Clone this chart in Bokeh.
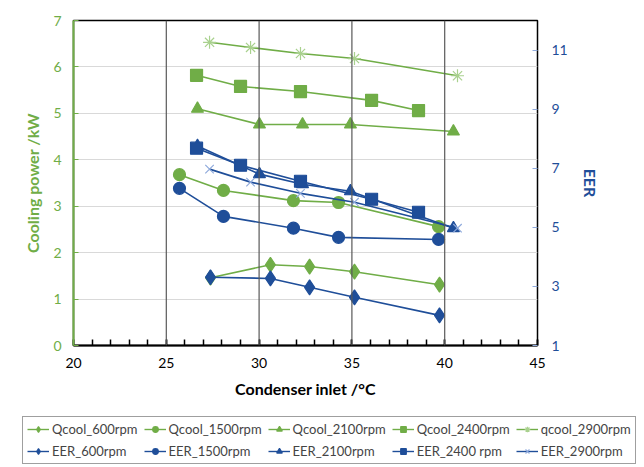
from bokeh.plotting import figure
from bokeh.models import (Range1d, LinearAxis, FixedTicker, Legend, LegendItem, Span)
from bokeh.embed import file_html
from bokeh.resources import INLINE

# ---- data ----
x_600 = [27.38, 30.61, 32.72, 35.14, 39.72]
q_600 = [1.46, 1.74, 1.70, 1.59, 1.31]
eer_600 = [3.31, 3.27, 2.97, 2.63, 2.02]

x_1500 = [25.71, 28.08, 31.85, 34.28, 39.67]
q_1500 = [3.68, 3.34, 3.12, 3.08, 2.56]
eer_1500 = [6.32, 5.37, 4.97, 4.66, 4.59]

x_2100 = [26.68, 30.02, 32.34, 34.92, 40.47]
q_2100 = [5.10, 4.76, 4.76, 4.76, 4.61]
eer_2100 = [7.75, 6.80, 6.46, 6.22, 4.97]

x_2400 = [26.63, 29.00, 32.23, 36.06, 38.59]
q_2400 = [5.82, 5.58, 5.47, 5.28, 5.06]
eer_2400 = [7.68, 7.10, 6.56, 5.95, 5.51]

x_2900 = [27.33, 29.54, 32.23, 35.14, 40.69]
q_2900 = [6.53, 6.42, 6.29, 6.18, 5.81]
eer_2900 = [6.97, 6.53, 6.15, 5.85, 4.97]

q_labels = ["Qcool_600rpm", "Qcool_1500rpm", "Qcool_2100rpm", "Qcool_2400rpm", "qcool_2900rpm"]
e_labels = ["EER_600rpm", "EER_1500rpm", "EER_2100rpm", "EER_2400 rpm", "EER_2900rpm"]

x_ticks = [20, 25, 30, 35, 40, 45]
y_ticks = [0, 1, 2, 3, 4, 5, 6, 7]
eer_ticks = [1, 3, 5, 7, 9, 11]

GREEN = "#70AD47"
LGREEN = "#A9D18E"
BLUE = "#1F4E99"
LBLUE = "#8FAADC"
FONT = "Lato"

p = figure(width=644, height=402, output_backend="svg", toolbar_location=None,
           x_range=Range1d(20, 45), y_range=Range1d(0, 7),
           min_border_left=73, min_border_right=107, min_border_top=20, min_border_bottom=57)
p.extra_y_ranges = {"eer": Range1d(1, 12)}

p.outline_line_color = "black"
p.outline_line_width = 1.5

# grids
p.xgrid.visible = False
p.ygrid.ticker = FixedTicker(ticks=[1, 2, 3, 4, 5, 6])
p.ygrid.grid_line_color = "#D9D9D9"
p.ygrid.grid_line_width = 1
for xv in [25, 30, 35, 40]:
    p.add_layout(Span(location=xv, dimension="height", line_color="#595959", line_width=1.2))

# x axis
xa = p.xaxis[0]
xa.ticker = FixedTicker(ticks=x_ticks, minor_ticks=list(range(20, 46)))
xa.major_tick_in = 6
xa.major_tick_out = 0
xa.minor_tick_in = 6
xa.minor_tick_out = 0
xa.major_tick_line_color = "black"
xa.minor_tick_line_color = "black"
xa.major_tick_line_width = 1.5
xa.minor_tick_line_width = 1.5
xa.axis_line_color = "black"
xa.axis_line_width = 2
xa.major_label_text_font = FONT
xa.major_label_text_font_size = "14px"
xa.major_label_text_color = "black"
xa.major_label_standoff = 12
xa.axis_label = "Condenser inlet /°C"
xa.axis_label_text_font = FONT
xa.axis_label_text_font_style = "bold"
xa.axis_label_text_font_size = "16px"
xa.axis_label_text_color = "black"
xa.axis_label_standoff = 8

# left axis
ya = p.yaxis[0]
ya.ticker = FixedTicker(ticks=y_ticks)
ya.major_tick_in = 5
ya.major_tick_out = 0
ya.minor_tick_line_color = None
ya.major_tick_line_color = GREEN
ya.axis_line_color = GREEN
ya.axis_line_width = 2
ya.major_label_text_font = FONT
ya.major_label_text_font_size = "14px"
ya.major_label_text_color = GREEN
ya.major_label_standoff = 12
ya.axis_label = "Cooling power /kW"
ya.axis_label_text_font = FONT
ya.axis_label_text_font_style = "bold"
ya.axis_label_text_font_size = "16px"
ya.axis_label_text_color = GREEN
ya.axis_label_standoff = 8

# right axis
ra = LinearAxis(y_range_name="eer", ticker=FixedTicker(ticks=eer_ticks))
ra.major_tick_in = 5
ra.major_tick_out = 0
ra.minor_tick_line_color = None
ra.major_tick_line_color = LBLUE
ra.axis_line_color = None
ra.major_label_text_font = FONT
ra.major_label_text_font_size = "14px"
ra.major_label_text_color = BLUE
ra.major_label_standoff = 14
ra.axis_label = "EER"
ra.axis_label_text_font = FONT
ra.axis_label_text_font_style = "bold"
ra.axis_label_text_font_size = "16px"
ra.axis_label_text_color = BLUE
ra.axis_label_standoff = 10
p.add_layout(ra, "right")

# legend figure (holds only the legend; its keys sit outside its ranges)
lg = figure(width=644, height=65, output_backend="svg", toolbar_location=None,
            x_range=Range1d(0, 1), y_range=Range1d(0, 1),
            x_axis_type=None, y_axis_type=None,
            min_border=0, min_border_left=0, min_border_right=0,
            min_border_top=0, min_border_bottom=0)
lg.grid.visible = False
lg.outline_line_color = None

def series(fig, xs, ys, marker, line_color, mcolor, fill, size, lw=1.6, range_name=None):
    kw = {}
    if range_name:
        kw["y_range_name"] = range_name
    r1 = fig.line(xs, ys, line_color=line_color, line_width=lw, **kw)
    r2 = fig.scatter(xs, ys, marker=marker, size=size, line_color=mcolor,
                     fill_color=fill, line_width=1.2, **kw)
    return [r1, r2]

q_specs = [(x_600, q_600, "diamond", GREEN, GREEN, GREEN, 15),
           (x_1500, q_1500, "circle", GREEN, GREEN, GREEN, 12),
           (x_2100, q_2100, "triangle", GREEN, GREEN, GREEN, 12),
           (x_2400, q_2400, "square", GREEN, GREEN, GREEN, 12),
           (x_2900, q_2900, "asterisk", GREEN, LGREEN, None, 13)]
e_specs = [(x_600, eer_600, "diamond", BLUE, BLUE, BLUE, 15),
           (x_1500, eer_1500, "circle", BLUE, BLUE, BLUE, 12),
           (x_2100, eer_2100, "triangle", BLUE, BLUE, BLUE, 12),
           (x_2400, eer_2400, "square", BLUE, BLUE, BLUE, 12),
           (x_2900, eer_2900, "x", BLUE, LBLUE, None, 12)]

items = []
for (xs, ys, m, lc, mc, fc, s), lab in zip(q_specs, q_labels):
    series(p, xs, ys, m, lc, mc, fc, s)
    items.append(LegendItem(label=lab, renderers=series(lg, [-10], [-10], m, lc, mc, fc, 8, 1.4)))
for (xs, ys, m, lc, mc, fc, s), lab in zip(e_specs, e_labels):
    series(p, xs, ys, m, lc, mc, fc, s, range_name="eer")
    items.append(LegendItem(label=lab, renderers=series(lg, [-10], [-10], m, lc, mc, fc, 8, 1.4)))

legend = Legend(items=items, ncols=5, orientation="horizontal",
                location=(22, 3),
                label_text_font=FONT, label_text_font_size="13px",
                glyph_width=22, glyph_height=14, label_standoff=3,
                label_height=14,
                spacing=6, padding=4, margin=0,
                border_line_color="#404040", border_line_width=1,
                background_fill_color="white", background_fill_alpha=1)
lg.add_layout(legend, "center")

open("out.html", "w").write(file_html([p, lg], INLINE))
